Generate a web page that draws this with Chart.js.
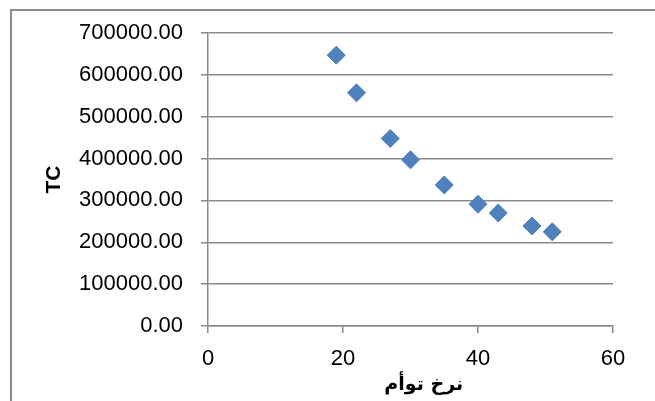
<!DOCTYPE html>
<html>
<head>
<meta charset="UTF-8">
<title>TC</title>
<script src="https://cdn.jsdelivr.net/npm/chart.js"></script>
<style>
    html, body { margin: 0; padding: 0; background: #fff; }
    .wrap { position: relative; width: 655px; height: 401px; overflow: hidden; }
    .frame {
        position: absolute; left: 10px; top: 9px; width: 800px; height: 600px;
        border-left: 2px solid #8a8a8a; border-top: 2px solid #8a8a8a;
    }
    canvas { position: absolute; left: 0; top: 0; }
</style>
</head>
<body>
<div class="wrap">
    <div class="frame"></div>
    <canvas id="c" width="655" height="401"></canvas>
</div>
<script>
// نرخ توأم (x) and TC (y)
const xValues = [19, 22, 27, 30, 35, 40, 43, 48, 51];
const tcValues = [647000, 557000, 448000, 397000, 337000, 291000, 270000, 239000, 225000];

// leading spaces nudge the centred arabic title a little to the right, like the original
const xTitle = '    نرخ توأم';
const yTitle = 'TC';

const gridColor = '#8a8a8a';
const tickFont = { family: "'Liberation Sans', 'DejaVu Sans', sans-serif", size: 22 };
const yTitleFont = { family: "'Liberation Sans', 'DejaVu Sans', sans-serif", size: 21, weight: 'bold' };
const xTitleFont = { family: "'DejaVu Sans', sans-serif", size: 19, weight: 'bold' };

const points = xValues.map((x, i) => ({ x: x, y: tcValues[i] }));

new Chart(document.getElementById('c'), {
    type: 'scatter',
    data: {
        datasets: [{
            data: points,
            pointStyle: 'rectRot',
            pointRadius: 9,
            pointHoverRadius: 9,
            backgroundColor: '#4f81bd',
            borderColor: '#4a7ebb',
            borderWidth: 1
        }]
    },
    options: {
        responsive: false,
        animation: false,
        layout: { padding: { top: 33, right: 42, left: 0, bottom: 0 } },
        plugins: { legend: { display: false }, tooltip: { enabled: false } },
        scales: {
            x: {
                type: 'linear',
                min: 0, max: 60,
                afterFit: s => { s.height = 75; },
                ticks: { stepSize: 20, color: '#000', font: tickFont, padding: 13, maxRotation: 0 },
                grid: { drawOnChartArea: false, drawTicks: true, tickLength: 7, color: gridColor, lineWidth: 1.5 },
                border: { color: gridColor, width: 1.5 },
                title: { display: true, text: xTitle, color: '#000', font: xTitleFont, padding: { top: 0, bottom: 5 } }
            },
            y: {
                min: 0, max: 700000,
                afterFit: s => { s.width = 208; },
                ticks: { stepSize: 100000, color: '#000', font: tickFont, padding: 18, callback: v => v.toFixed(2) },
                grid: { drawTicks: true, tickLength: 7, color: gridColor, lineWidth: 1.5 },
                border: { color: gridColor, width: 1.5 },
                title: { display: true, text: yTitle, color: '#000', font: yTitleFont, padding: { top: 42, bottom: 0 } }
            }
        }
    }
});
</script>
</body>
</html>
